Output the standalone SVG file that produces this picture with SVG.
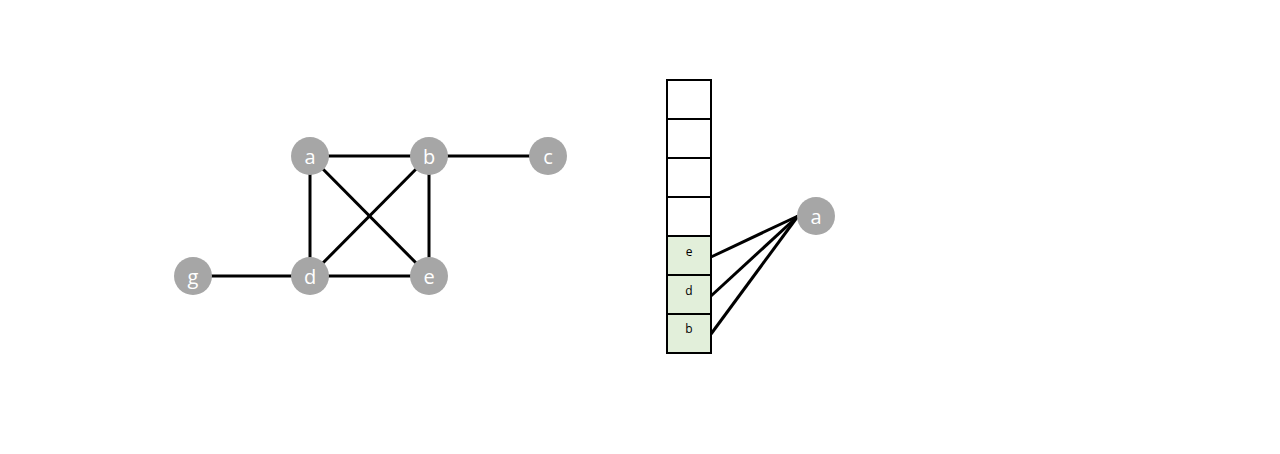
<svg xmlns="http://www.w3.org/2000/svg" width="1280" height="454" viewBox="0 0 1280 454">
<style>
.n{fill:#a6a6a6}
.nt{fill:#fff;font-family:"Open Sans","Liberation Sans",sans-serif;font-size:20px;text-anchor:middle;dominant-baseline:central}
.e{stroke:#000;stroke-width:3;fill:none}
.c{fill:#fff;stroke:#000;stroke-width:2}
.g{fill:#e2efda;stroke:#000;stroke-width:2}
.ct{fill:#000;font-family:"Open Sans","Liberation Sans",sans-serif;font-size:12px;text-anchor:middle;dominant-baseline:central}
</style>
<rect width="1280" height="454" fill="#fff"/>
<g id="connectors">
<line class="e" x1="310" y1="156" x2="429" y2="156"/>
<line class="e" x1="429" y1="156" x2="548" y2="156"/>
<line class="e" x1="310" y1="156" x2="310" y2="276"/>
<line class="e" x1="429" y1="156" x2="429" y2="276"/>
<line class="e" x1="310" y1="156" x2="429" y2="276"/>
<line class="e" x1="429" y1="156" x2="310" y2="276"/>
<line class="e" x1="193" y1="276" x2="310" y2="276"/>
<line class="e" x1="310" y1="276" x2="429" y2="276"/>
<line class="e" x1="711" y1="257" x2="798" y2="216"/>
<line class="e" x1="711" y1="296" x2="798" y2="216"/>
<line class="e" x1="711" y1="334" x2="798" y2="216"/>
</g>
<g id="node-a"><circle class="n" cx="310" cy="156" r="19"/><text class="nt" x="310" y="156">a</text></g>
<g id="node-b"><circle class="n" cx="429" cy="156" r="19"/><text class="nt" x="429" y="156">b</text></g>
<g id="node-c"><circle class="n" cx="548" cy="156" r="19"/><text class="nt" x="548" y="156">c</text></g>
<g id="node-g"><circle class="n" cx="193" cy="276" r="19"/><text class="nt" x="193" y="276">g</text></g>
<g id="node-d"><circle class="n" cx="310" cy="276" r="19"/><text class="nt" x="310" y="276">d</text></g>
<g id="node-e"><circle class="n" cx="429" cy="276" r="19"/><text class="nt" x="429" y="276">e</text></g>
<g id="stack">
<rect class="c" x="667" y="80" width="44" height="39"/>
<rect class="c" x="667" y="119" width="44" height="39"/>
<rect class="c" x="667" y="158" width="44" height="39"/>
<rect class="c" x="667" y="197" width="44" height="39"/>
<rect class="g" x="667" y="236" width="44" height="39"/>
<rect class="g" x="667" y="275" width="44" height="39"/>
<rect class="g" x="667" y="314" width="44" height="39"/>
<text class="ct" x="689" y="251">e</text>
<text class="ct" x="689" y="290">d</text>
<text class="ct" x="689" y="328">b</text>
</g>
<g id="node-a2"><circle class="n" cx="816" cy="216" r="19"/><text class="nt" x="816" y="216">a</text></g>
</svg>
